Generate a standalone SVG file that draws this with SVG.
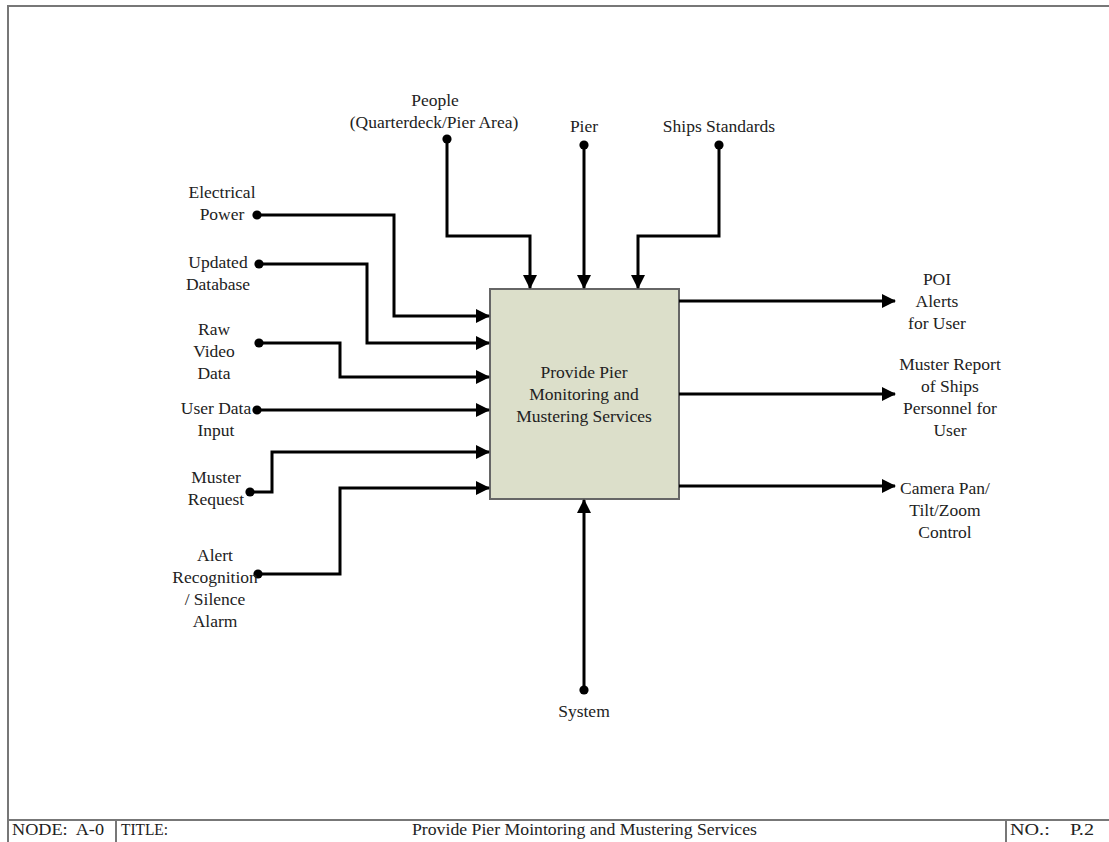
<svg xmlns="http://www.w3.org/2000/svg" width="1109" height="842" viewBox="0 0 1109 842">
<defs>
<marker id="ah" markerUnits="userSpaceOnUse" markerWidth="14" markerHeight="14" viewBox="0 0 14 14" refX="13" refY="7" orient="auto"><path d="M0,0 L14,7 L0,14 Z" fill="#000"/></marker>
<marker id="dot" markerUnits="userSpaceOnUse" markerWidth="10" markerHeight="10" viewBox="0 0 10 10" refX="5" refY="5"><circle cx="5" cy="5" r="4.6" fill="#000"/></marker>
</defs>
<style>
.t{font-family:"Liberation Serif","Times New Roman",serif;font-size:17.5px;fill:#222;text-anchor:middle}
.tb{font-family:"Liberation Serif","Times New Roman",serif;font-size:16px;fill:#222}
.c{fill:none;stroke:#000;stroke-width:3;marker-start:url(#dot);marker-end:url(#ah)}
.o{fill:none;stroke:#000;stroke-width:3;marker-end:url(#ah)}
.frame{fill:none;stroke:#777;stroke-width:2}
</style>
<rect width="1109" height="842" fill="#fff"/>
<g id="frame">
<path class="frame" d="M8,850 V6 H1115"/>
<path class="frame" d="M8,820 H1115"/>
<path class="frame" d="M116,820 V850 M1006,820 V850" stroke-width="1.5"/>
<text class="tb" x="12" y="835" xml:space="preserve" textLength="92" lengthAdjust="spacingAndGlyphs">NODE:  A-0</text>
<text class="tb" x="121" y="835" textLength="47" lengthAdjust="spacingAndGlyphs">TITLE:</text>
<text class="tb" x="412" y="835" textLength="345" lengthAdjust="spacingAndGlyphs">Provide Pier Mointoring and Mustering Services</text>
<text class="tb" x="1010" y="835" xml:space="preserve" textLength="84" lengthAdjust="spacingAndGlyphs">NO.:    P.2</text>
</g>
<g id="node-a0">
<rect x="490" y="289" width="189" height="210" fill="#dcdfca" stroke="#666" stroke-width="2"/>
<text class="t" x="584" y="378">Provide Pier</text>
<text class="t" x="584" y="400">Monitoring and</text>
<text class="t" x="584" y="422">Mustering Services</text>
</g>
<g id="connectors">
<path class="c" d="M447,139 V236 H530 V288"/>
<path class="c" d="M584,145 V288"/>
<path class="c" d="M719,145 V236 H638 V288"/>
<path class="c" d="M257,215 H394 V316 H489"/>
<path class="c" d="M259,264 H367 V343 H489"/>
<path class="c" d="M259,343 H340 V377 H489"/>
<path class="c" d="M257,410 H489"/>
<path class="c" d="M250,492 H272 V452 H489"/>
<path class="c" d="M258,574 H340 V488 H489"/>
<path class="c" d="M584,690 V500"/>
<path class="o" d="M679,301 H895"/>
<path class="o" d="M679,394 H895"/>
<path class="o" d="M679,486 H895"/>
</g>
<g id="labels">
<text class="t" x="435" y="106">People</text>
<text class="t" x="434" y="128">(Quarterdeck/Pier Area)</text>
<text class="t" x="584" y="132">Pier</text>
<text class="t" x="719" y="132">Ships Standards</text>
<text class="t" x="222" y="198">Electrical</text>
<text class="t" x="222" y="220">Power</text>
<text class="t" x="218" y="268">Updated</text>
<text class="t" x="218" y="290">Database</text>
<text class="t" x="214" y="335">Raw</text>
<text class="t" x="214" y="357">Video</text>
<text class="t" x="214" y="379">Data</text>
<text class="t" x="216" y="414">User Data</text>
<text class="t" x="216" y="436">Input</text>
<text class="t" x="216" y="483">Muster</text>
<text class="t" x="216" y="505">Request</text>
<text class="t" x="215" y="561">Alert</text>
<text class="t" x="215" y="583">Recognition</text>
<text class="t" x="215" y="605">/ Silence</text>
<text class="t" x="215" y="627">Alarm</text>
<text class="t" x="937" y="285">POI</text>
<text class="t" x="937" y="307">Alerts</text>
<text class="t" x="937" y="329">for User</text>
<text class="t" x="950" y="370">Muster Report</text>
<text class="t" x="950" y="392">of Ships</text>
<text class="t" x="950" y="414">Personnel for</text>
<text class="t" x="950" y="436">User</text>
<text class="t" x="945" y="494">Camera Pan/</text>
<text class="t" x="945" y="516">Tilt/Zoom</text>
<text class="t" x="945" y="538">Control</text>
<text class="t" x="584" y="717">System</text>
</g>
</svg>
